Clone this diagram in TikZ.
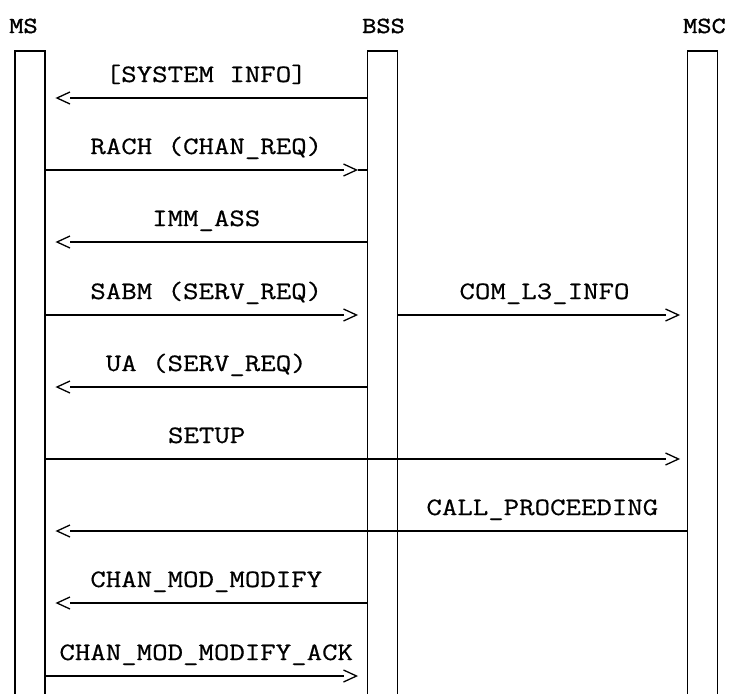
\documentclass[tikz,border=0pt]{standalone}
\usepackage{fontspec}
\newfontfamily\msgfont[FakeStretch=1.2,FakeBold=0.6]{Latin Modern Mono}
\newfontfamily\hdrfont[FakeStretch=1.2,FakeBold=1.6]{Latin Modern Mono}
\usetikzlibrary{arrows.meta}
\pgfdeclarearrow{
  name = Chev,
  parameters = {\the\pgfarrowlength,\the\pgfarrowwidth},
  setup code = {
    \pgfarrowssettipend{0pt}
    \pgfarrowssetlineend{-\pgfarrowlength}
    \pgfarrowssetbackend{-\pgfarrowlength}
    \pgfarrowshullpoint{0pt}{0pt}
    \pgfarrowshullpoint{-\pgfarrowlength}{.5\pgfarrowwidth}
    \pgfarrowshullpoint{-\pgfarrowlength}{-.5\pgfarrowwidth}
    \pgfarrowssavethe\pgfarrowlength
    \pgfarrowssavethe\pgfarrowwidth
  },
  drawing code = {
    \pgfsetlinewidth{1.3pt}
    \pgfpathmoveto{\pgfqpoint{-\pgfarrowlength}{.5\pgfarrowwidth}}
    \pgfpathlineto{\pgfqpoint{0pt}{0pt}}
    \pgfpathlineto{\pgfqpoint{-\pgfarrowlength}{-.5\pgfarrowwidth}}
    \pgfusepathqstroke
  },
  defaults = {length=13pt, width=12pt}
}
\begin{document}
\begin{tikzpicture}[x=1pt,y=-1pt,line width=1.6pt,
  life/.style={draw, minimum width=30pt, minimum height=700pt, anchor=north, inner sep=0pt, outer sep=0pt},
  hdr/.style={font=\hdrfont\fontsize{23}{23}\selectfont, anchor=base, inner sep=0pt},
  lbl/.style={font=\msgfont\fontsize{25}{25}\selectfont, anchor=base, inner sep=0pt, yshift=16pt},
  toleft/.style={-{Chev}, shorten >=12pt},
  torightb/.style={-{Chev}, shorten >=11pt},
  torightc/.style={-{Chev}, shorten >=9pt}]
\useasboundingbox (0,0) rectangle (729,694);
% lifelines
\node[life] (ms)  at (30,51) {};
\node[life] (bss) at (382.5,51) {};
\node[life] (msc) at (702.5,51) {};
% headers
\node[hdr] (hms)  at (23.5,33) {MS};
\node[hdr] (hbss) at (383.5,33) {BSS};
\node[hdr] (hmsc) at (704.5,33) {MSC};
% message rows
\coordinate (r1) at (0,98);
\coordinate (r2) at (0,170);
\coordinate (r3) at (0,242);
\coordinate (r4) at (0,315);
\coordinate (r5) at (0,387);
\coordinate (r6) at (0,459);
\coordinate (r7) at (0,531);
\coordinate (r8) at (0,603);
\coordinate (r9) at (0,676);
% messages
\draw[toleft] (bss.west|-r1) -- (ms.east|-r1) node[lbl,midway] (l1) {[SYSTEM INFO]};
\draw[torightb] (ms.east|-r2) -- (bss.west|-r2) node[lbl,midway] (l2) {RACH (CHAN\_REQ)};
\draw ([xshift=-10pt]bss.west|-r2) -- (bss.west|-r2);
\draw[toleft] (bss.west|-r3) -- (ms.east|-r3) node[lbl,midway] (l3) {IMM\_ASS};
\draw[torightb] (ms.east|-r4) -- (bss.west|-r4) node[lbl,midway] (l4) {SABM (SERV\_REQ)};
\draw[torightc] (bss.east|-r4) -- (msc.west|-r4) node[lbl,midway,xshift=2pt] (l4b) {COM\_L3\_INFO};
\draw[toleft] (bss.west|-r5) -- (ms.east|-r5) node[lbl,midway] (l5) {UA (SERV\_REQ)};
\draw[torightc] (ms.east|-r6) -- (msc.west|-r6) node[lbl,pos=0.2516] (l6) {SETUP};
\draw[toleft] (msc.west|-r7) -- (ms.east|-r7) node[lbl,pos=0.2259] (l7) {CALL\_PROCEEDING};
\draw[toleft] (bss.west|-r8) -- (ms.east|-r8) node[lbl,midway] (l8) {CHAN\_MOD\_MODIFY};
\draw[torightb] (ms.east|-r9) -- (bss.west|-r9) node[lbl,midway] (l9) {CHAN\_MOD\_MODIFY\_ACK};
\end{tikzpicture}
\end{document}
